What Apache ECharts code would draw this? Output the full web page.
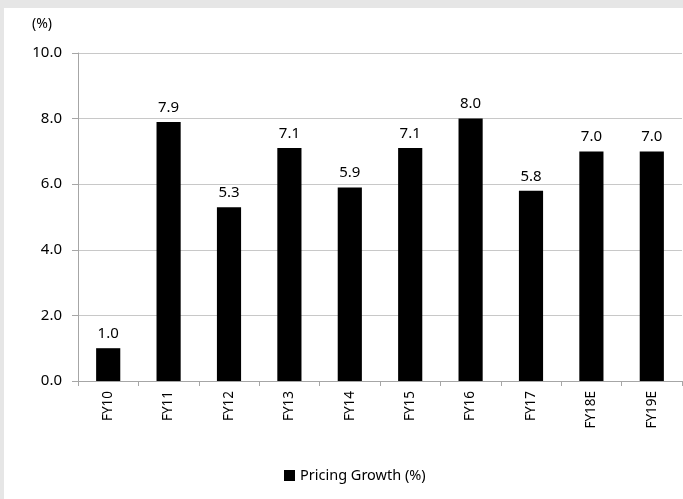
<!DOCTYPE html>
<html>
<head>
<meta charset="utf-8">
<script src="https://cdn.jsdelivr.net/npm/echarts@6/dist/echarts.min.js"></script>
<style>
  html, body { margin: 0; padding: 0; background: #e6e6e6; }
  #chart { width: 683px; height: 499px; }
</style>
</head>
<body>
<div id="chart"></div>
<script>
// fiscal years on the x axis
var years = ["FY10", "FY11", "FY12", "FY13", "FY14", "FY15", "FY16", "FY17", "FY18E", "FY19E"];
// pricing growth, %
var pricingGrowth = [1.0, 7.9, 5.3, 7.1, 5.9, 7.1, 8.0, 5.8, 7.0, 7.0];
var yTicks = [0, 2, 4, 6, 8, 10];

var font = "'Noto Sans', 'Open Sans', sans-serif";

var chart = echarts.init(document.getElementById("chart"));
chart.setOption({
  backgroundColor: "#e6e6e6",
  animation: false,
  textStyle: { fontFamily: font },
  graphic: [
    // white panel of the chart
    { type: "rect", z: -10, shape: { x: 4, y: 8, width: 679, height: 491 }, style: { fill: "#ffffff" } },
    { type: "text", left: 32, top: 17, style: { text: "(%)", fontSize: 14, fontFamily: font, fill: "#000" } }
  ],
  grid: { left: 78, top: 53, right: 1, bottom: 118, containLabel: false },
  legend: {
    data: ["Pricing Growth (%)"],
    left: 279,
    bottom: 11,
    icon: "rect",
    itemWidth: 11,
    itemHeight: 11,
    itemGap: 5,
    textStyle: { fontSize: 14.5, color: "#000", fontFamily: font }
  },
  xAxis: {
    type: "category",
    data: years,
    axisLine: { lineStyle: { color: "#a6a6a6", width: 1 } },
    axisTick: { show: true, length: 5, lineStyle: { color: "#a6a6a6" } },
    axisLabel: { rotate: 90, margin: 10, fontSize: 13.5, color: "#000", fontFamily: font }
  },
  yAxis: {
    type: "value",
    min: yTicks[0],
    max: yTicks[yTicks.length - 1],
    interval: 2,
    axisLine: { show: true, lineStyle: { color: "#a6a6a6" } },
    axisTick: { show: true, length: 6, lineStyle: { color: "#a6a6a6" } },
    splitLine: { lineStyle: { color: "#c8c8c8" } },
    axisLabel: {
      margin: 16,
      fontSize: 15,
      color: "#000",
      fontFamily: font,
      formatter: function (v) { return v.toFixed(1); }
    }
  },
  series: [
    {
      name: "Pricing Growth (%)",
      type: "bar",
      data: pricingGrowth,
      barWidth: "40%",
      itemStyle: { color: "#000000" },
      label: {
        show: true,
        position: "top",
        distance: 7,
        fontSize: 15,
        color: "#000",
        fontFamily: font,
        formatter: function (p) { return p.value.toFixed(1); }
      }
    }
  ]
});
</script>
</body>
</html>
